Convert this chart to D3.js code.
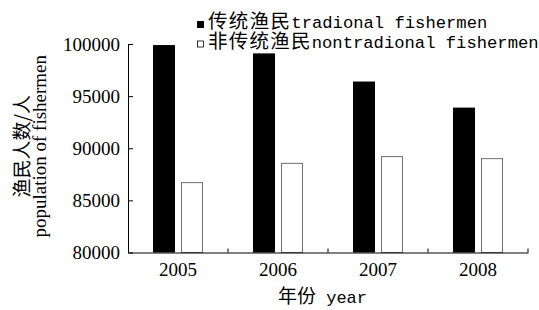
<!DOCTYPE html>
<html>
<head>
<meta charset="utf-8">
<script src="https://cdn.jsdelivr.net/npm/d3@7"></script>
<style>
  body { margin: 0; background: #fff; }
  svg { display: block; }
  .serif { font-family: "Liberation Serif", "DejaVu Serif", serif; }
  .mono { font-family: "Liberation Mono", "DejaVu Sans Mono", monospace; }
  .cjk { font-family: "Noto Sans CJK SC", sans-serif; }
</style>
</head>
<body>
<div id="chart"></div>
<script>
const years = ["2005", "2006", "2007", "2008"];
const seriesKeys = ["traditional", "nontraditional"];
const traditional = [99900, 99100, 96400, 93900];
const nontraditional = [86750, 88600, 89250, 89050];
const yTicks = [80000, 85000, 90000, 95000, 100000];
const legendCn = ["传统渔民", "非传统渔民"];
const legendEn = ["tradional fishermen", "nontradional fishermen"];

const width = 539, height = 310;
const margin = { top: 44, right: 11, bottom: 57.5, left: 128 };

const svg = d3.select("#chart")
  .append("svg")
  .attr("width", width)
  .attr("height", height);

const x = d3.scaleBand()
  .domain(years)
  .range([margin.left, width - margin.right])
  .paddingInner(0)
  .paddingOuter(0);

const xSub = d3.scaleBand()
  .domain(seriesKeys)
  .range([25, 75])
  .paddingInner(0.214);

const y = d3.scaleLinear()
  .domain([80000, 100000])
  .range([height - margin.bottom, margin.top]);

const data = years.map((yr, i) => ({
  year: yr,
  traditional: traditional[i],
  nontraditional: nontraditional[i]
}));

// bars
const groups = svg.append("g")
  .selectAll("g")
  .data(data)
  .join("g")
  .attr("transform", d => `translate(${x(d.year)},0)`);

groups.selectAll("rect")
  .data(d => seriesKeys.map(k => ({ key: k, value: d[k] })))
  .join("rect")
  .attr("x", d => xSub(d.key) + (d.key === "nontraditional" ? 0.5 : 0))
  .attr("y", d => y(d.value) + (d.key === "nontraditional" ? 0.5 : 0))
  .attr("width", d => xSub.bandwidth() - (d.key === "nontraditional" ? 1 : 0))
  .attr("height", d => y(80000) - y(d.value) - (d.key === "nontraditional" ? 0.5 : 0))
  .attr("fill", d => d.key === "traditional" ? "#000" : "#fff")
  .attr("stroke", d => d.key === "traditional" ? "none" : "#6e6e6e")
  .attr("stroke-width", 1);

// y axis
const yAxis = svg.append("g")
  .attr("transform", `translate(${margin.left},0)`)
  .call(d3.axisLeft(y)
    .tickValues(yTicks)
    .tickFormat(d3.format("d"))
    .tickSizeInner(-5)
    .tickSizeOuter(0)
    .tickPadding(8));

yAxis.attr("font-family", null).attr("font-size", null);
yAxis.selectAll("text")
  .attr("class", "serif")
  .style("font-size", "19px")
  .attr("fill", "#000");
yAxis.selectAll("line, path").attr("stroke", "#000");

// x axis
const xAxis = svg.append("g")
  .attr("transform", `translate(0,${y(80000)})`)
  .call(d3.axisBottom(x).tickSize(0).tickSizeOuter(0).tickPadding(10));

xAxis.attr("font-family", null).attr("font-size", null);
xAxis.selectAll("text")
  .attr("class", "serif")
  .style("font-size", "19px")
  .attr("fill", "#000");
xAxis.select(".domain").attr("stroke", "#000");

// boundary ticks between categories, pointing up
xAxis.selectAll(".bound")
  .data(years)
  .join("line")
  .attr("class", "bound")
  .attr("x1", d => x(d) + x.step())
  .attr("x2", d => x(d) + x.step())
  .attr("y1", 0)
  .attr("y2", -4)
  .attr("stroke", "#000");

// x axis title
const xt = svg.append("text")
  .attr("x", 278)
  .attr("y", 303)
  .attr("fill", "#000");
xt.append("tspan")
  .attr("class", "cjk")
  .style("font-size", "19px")
  .text("年份");
xt.append("tspan")
  .attr("class", "mono")
  .style("font-size", "17px")
  .text(" year");

// y axis titles
const yMid = (margin.top + y(80000)) / 2 - 2;
svg.append("text")
  .attr("class", "cjk")
  .attr("transform", `translate(29,${yMid}) rotate(-90)`)
  .attr("text-anchor", "middle")
  .style("font-size", "19px")
  .attr("fill", "#000")
  .text("渔民人数/人");

svg.append("text")
  .attr("class", "serif")
  .attr("transform", `translate(46,${yMid}) rotate(-90)`)
  .attr("text-anchor", "middle")
  .style("font-size", "19px")
  .attr("fill", "#000")
  .text("population of fishermen");

// legend
const legend = svg.append("g");
const legendRows = legend.selectAll("g")
  .data(seriesKeys)
  .join("g")
  .attr("transform", (d, i) => `translate(197,${28 + i * 19.5})`);

legendRows.append("rect")
  .attr("x", (d, i) => i === 0 ? 0 : 0.5)
  .attr("y", (d, i) => i === 0 ? -7 : -6.5)
  .attr("width", (d, i) => i === 0 ? 7 : 6)
  .attr("height", (d, i) => i === 0 ? 7 : 6)
  .attr("fill", d => d === "traditional" ? "#000" : "#fff")
  .attr("stroke", d => d === "traditional" ? "none" : "#000")
  .attr("stroke-width", 0.8);

const lt = legendRows.append("text")
  .attr("x", 11)
  .attr("y", 0)
  .attr("fill", "#000");
lt.append("tspan")
  .attr("class", "cjk")
  .style("font-size", "19.5px")
  .attr("textLength", (d, i) => legendCn[i].length * 20.5)
  .attr("lengthAdjust", "spacing")
  .text((d, i) => legendCn[i]);
lt.append("tspan")
  .attr("class", "mono")
  .style("font-size", "17.2px")
  .text((d, i) => legendEn[i]);
</script>
</body>
</html>
